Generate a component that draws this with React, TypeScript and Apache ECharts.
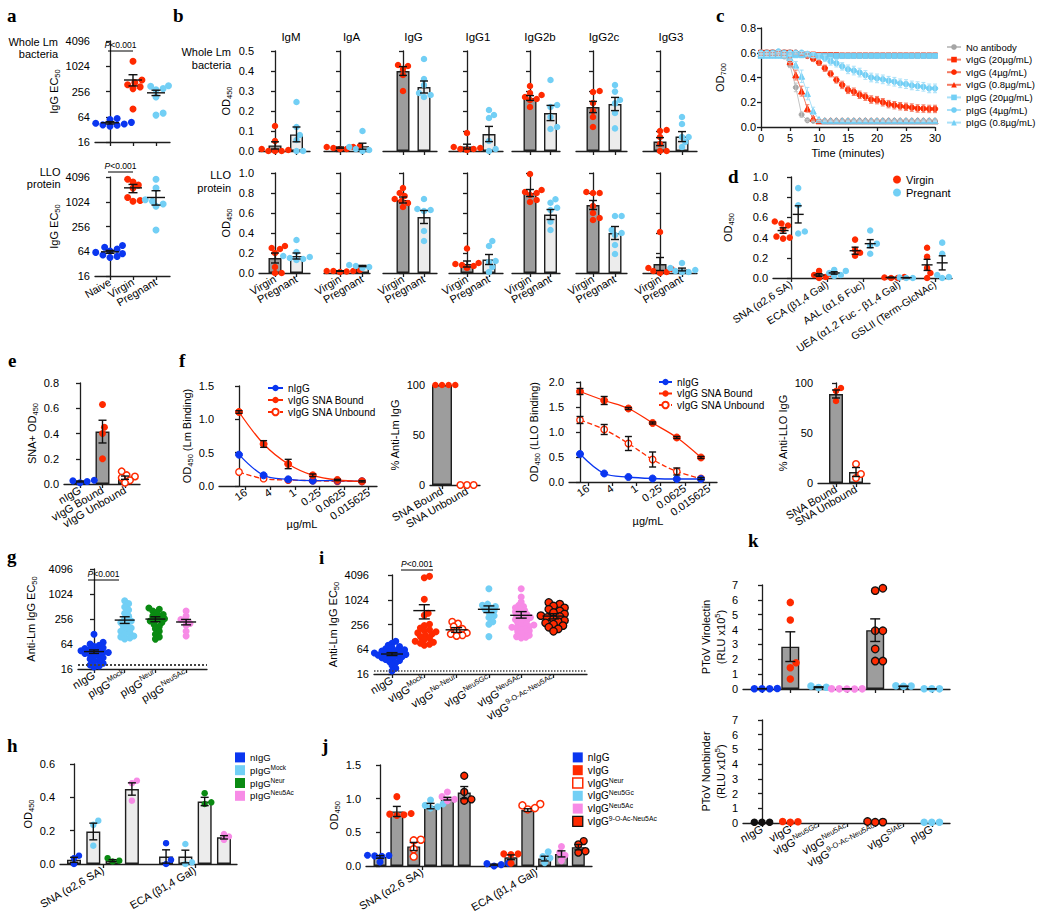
import React, { useEffect, useRef } from 'react';
import * as echarts from 'echarts';

const FONT = '"Liberation Sans", Arial, Helvetica, sans-serif';
const SERIF = '"Liberation Serif", "Times New Roman", serif';
const RED = '#ff2a00';
const LBLUE = '#72cff5';
const DBLUE = '#0a36f0';
const GREEN = '#0a8a12';
const PINK = '#f78be6';
const BLACK = '#111111';
const DGREY = '#9d9d9d';
const LGREY = '#ececec';
const INK = '#1e1e1e';

/* ---------------- a ---------------- */
const aCats = ['Naive', 'Virgin', 'Pregnant'];
const aLmNaive = [58, 55, 50, 47, 45, 43, 41, 40, 38];
const aLmVirgin = [1350, 480, 420, 370, 330, 300, 98];
const aLmPregnant = [350, 340, 300, 280, 190, 78, 70];
const aLmMean = [46, 481, 238];
const aLmLo = [43, 347, 205];
const aLmHi = [49, 643, 275];
const aLloNaive = [88, 80, 72, 65, 60, 56, 52, 48, 45];
const aLloVirgin = [3600, 3100, 2600, 2200, 1300, 1100, 1050];
const aLloPregnant = [3600, 2200, 1150, 1050, 900, 800, 210];
const aLloMean = [62, 2230, 1300];
const aLloLo = [57, 1700, 850];
const aLloHi = [67, 2700, 1900];

/* ---------------- b ---------------- */
const bIsotypes = ['IgM', 'IgA', 'IgG', 'IgG1', 'IgG2b', 'IgG2c', 'IgG3'];
const bGroups = ['Virgin', 'Pregnant'];
const bLmVirgin = [
  [0.125, 0.05, 0.01, 0.005, 0.0, 0.0, 0.0],
  [0.025, 0.02, 0.02, 0.015, 0.01, 0.01],
  [0.43, 0.425, 0.41, 0.38, 0.30],
  [0.09, 0.02, 0.015, 0.01, 0.01, 0.005],
  [0.325, 0.29, 0.28, 0.27, 0.26, 0.255, 0.22],
  [0.30, 0.295, 0.24, 0.20, 0.17, 0.12],
  [0.105, 0.10, 0.07, 0.035, 0.0, 0.0],
];
const bLmVirginMean = [0.028, 0.017, 0.40, 0.022, 0.265, 0.22, 0.047];
const bLmVirginSem = [0.018, 0.003, 0.022, 0.012, 0.012, 0.028, 0.02];
const bLmPregnant = [
  [0.245, 0.12, 0.08, 0.055, 0.0, 0.0],
  [0.10, 0.02, 0.01, 0.01, 0.005, 0.0],
  [0.46, 0.36, 0.33, 0.29, 0.28, 0.27],
  [0.205, 0.18, 0.165, 0.05, 0.01, 0.0],
  [0.355, 0.23, 0.22, 0.17, 0.12, 0.11],
  [0.33, 0.297, 0.255, 0.238, 0.19, 0.113],
  [0.17, 0.135, 0.07, 0.07, 0.045, 0.02],
];
const bLmPregnantMean = [0.083, 0.024, 0.32, 0.085, 0.19, 0.235, 0.072];
const bLmPregnantSem = [0.037, 0.015, 0.03, 0.038, 0.038, 0.033, 0.025];
const bLloVirgin = [
  [0.27, 0.25, 0.24, 0.20, 0.06, 0.0, 0.0],
  [0.03, 0.02, 0.02, 0.02, 0.015, 0.01],
  [0.85, 0.80, 0.77, 0.74, 0.72, 0.70, 0.66],
  [0.245, 0.10, 0.09, 0.08, 0.07, 0.05],
  [0.99, 0.83, 0.81, 0.80, 0.78, 0.73, 0.71],
  [0.81, 0.80, 0.80, 0.67, 0.60, 0.55, 0.53],
  [0.41, 0.05, 0.04, 0.02, 0.01, 0.0],
];
const bLloVirginMean = [0.15, 0.02, 0.73, 0.09, 0.80, 0.68, 0.09];
const bLloVirginSem = [0.05, 0.003, 0.03, 0.03, 0.035, 0.045, 0.065];
const bLloPregnant = [
  [0.33, 0.21, 0.17, 0.16, 0.15, 0.14, 0.13],
  [0.09, 0.08, 0.07, 0.07, 0.06, 0.05],
  [0.74, 0.64, 0.63, 0.62, 0.42, 0.32],
  [0.32, 0.27, 0.12, 0.11, 0.06, 0.01],
  [0.737, 0.703, 0.653, 0.63, 0.513, 0.43],
  [0.57, 0.57, 0.43, 0.40, 0.38, 0.28, 0.19],
  [0.10, 0.05, 0.03, 0.02, 0.01, 0.01],
];
const bLloPregnantMean = [0.17, 0.07, 0.56, 0.135, 0.585, 0.40, 0.035];
const bLloPregnantSem = [0.03, 0.006, 0.065, 0.05, 0.05, 0.065, 0.014];

/* ---------------- c ---------------- */
const cTime = [0, 1, 2, 3, 4, 5, 6, 7, 8, 9, 10, 11, 12, 13, 14, 15, 16, 17, 18, 19, 20, 21, 22, 23, 24, 25, 26, 27, 28, 29, 30];
const cTicks = [0, 5, 10, 15, 20, 25, 30];
const cTickLabels = ['0', '5', '10', '15', '20', '25', '30'];
const cNoAb = [0.58, 0.58, 0.58, 0.58, 0.57, 0.50, 0.32, 0.10, 0.054, 0.05, 0.05, 0.05, 0.05, 0.05, 0.05, 0.05, 0.05, 0.05, 0.05, 0.05, 0.05, 0.05, 0.05, 0.05, 0.05, 0.05, 0.05, 0.05, 0.05, 0.05, 0.05];
const cNoAbErr = [0.01, 0.01, 0.01, 0.01, 0.01, 0.02, 0.035, 0.02, 0.008, 0.005, 0.004, 0.004, 0.004, 0.004, 0.004, 0.004, 0.004, 0.004, 0.004, 0.004, 0.004, 0.004, 0.004, 0.004, 0.004, 0.004, 0.004, 0.004, 0.004, 0.004, 0.004];
const cV20 = [0.60, 0.60, 0.60, 0.60, 0.60, 0.60, 0.59, 0.59, 0.585, 0.585, 0.58, 0.58, 0.58, 0.58, 0.578, 0.578, 0.578, 0.578, 0.578, 0.578, 0.578, 0.578, 0.578, 0.578, 0.578, 0.578, 0.578, 0.578, 0.578, 0.578, 0.578];
const cV4 = [0.60, 0.60, 0.60, 0.60, 0.60, 0.60, 0.60, 0.59, 0.575, 0.55, 0.52, 0.475, 0.43, 0.38, 0.34, 0.30, 0.285, 0.26, 0.245, 0.222, 0.217, 0.20, 0.185, 0.176, 0.168, 0.163, 0.157, 0.15, 0.149, 0.146, 0.146];
const cV4Err = [0.01, 0.01, 0.01, 0.01, 0.01, 0.01, 0.01, 0.01, 0.015, 0.02, 0.02, 0.025, 0.025, 0.025, 0.03, 0.03, 0.03, 0.03, 0.03, 0.03, 0.03, 0.03, 0.03, 0.03, 0.03, 0.03, 0.03, 0.03, 0.03, 0.03, 0.03];
const cV08 = [0.59, 0.59, 0.59, 0.59, 0.59, 0.53, 0.42, 0.29, 0.15, 0.07, 0.05, 0.05, 0.05, 0.05, 0.05, 0.05, 0.05, 0.05, 0.05, 0.05, 0.05, 0.05, 0.05, 0.05, 0.05, 0.05, 0.05, 0.05, 0.05, 0.05, 0.05];
const cV08Err = [0.01, 0.01, 0.01, 0.01, 0.01, 0.03, 0.04, 0.04, 0.03, 0.015, 0.008, 0.005, 0.005, 0.005, 0.005, 0.005, 0.005, 0.005, 0.005, 0.005, 0.005, 0.005, 0.005, 0.005, 0.005, 0.005, 0.005, 0.005, 0.005, 0.005, 0.005];
const cP20 = [0.58, 0.585, 0.585, 0.59, 0.585, 0.58, 0.58, 0.58, 0.58, 0.58, 0.575, 0.575, 0.575, 0.575, 0.575, 0.575, 0.575, 0.575, 0.575, 0.575, 0.575, 0.575, 0.575, 0.575, 0.575, 0.575, 0.575, 0.575, 0.575, 0.575, 0.575];
const cP4 = [0.60, 0.60, 0.60, 0.61, 0.60, 0.60, 0.60, 0.60, 0.59, 0.58, 0.57, 0.556, 0.53, 0.515, 0.49, 0.466, 0.456, 0.44, 0.42, 0.40, 0.393, 0.385, 0.374, 0.366, 0.353, 0.347, 0.336, 0.33, 0.325, 0.312, 0.312];
const cP4Err = [0.01, 0.01, 0.01, 0.01, 0.01, 0.01, 0.01, 0.01, 0.015, 0.02, 0.02, 0.025, 0.03, 0.03, 0.03, 0.035, 0.035, 0.035, 0.035, 0.035, 0.035, 0.035, 0.035, 0.035, 0.035, 0.035, 0.035, 0.035, 0.035, 0.035, 0.035];
const cP08 = [0.58, 0.58, 0.58, 0.58, 0.58, 0.56, 0.50, 0.41, 0.27, 0.13, 0.06, 0.05, 0.05, 0.05, 0.05, 0.05, 0.05, 0.05, 0.05, 0.05, 0.05, 0.05, 0.05, 0.05, 0.05, 0.05, 0.05, 0.05, 0.05, 0.05, 0.05];
const cP08Err = [0.01, 0.01, 0.01, 0.01, 0.01, 0.02, 0.03, 0.05, 0.05, 0.03, 0.01, 0.005, 0.005, 0.005, 0.005, 0.005, 0.005, 0.005, 0.005, 0.005, 0.005, 0.005, 0.005, 0.005, 0.005, 0.005, 0.005, 0.005, 0.005, 0.005, 0.005];

/* ---------------- d ---------------- */
const dLectins = ['SNA (α2,6 SA)', 'ECA (β1,4 Gal)', 'AAL (α1,6 Fuc)', 'UEA (α1,2 Fuc - β1,4 Gal)', 'GSLII (Term-GlcNAc)'];
const dVirgin = [[0.56, 0.54, 0.52, 0.48, 0.41, 0.40, 0.39], [0.07, 0.04, 0.03, 0.01, 0.0], [0.38, 0.28, 0.25, 0.22], [0.01, 0.005, 0.0, 0.0], [0.30, 0.21, 0.10, 0.05, 0.0]];
const dVirginMean = [0.47, 0.03, 0.27, 0.005, 0.13];
const dVirginSem = [0.027, 0.013, 0.035, 0.003, 0.055];
const dPregnant = [[0.89, 0.72, 0.46, 0.44], [0.08, 0.07, 0.05, 0.03, 0.02], [0.47, 0.34, 0.32, 0.24], [0.005, 0.0, 0.0], [0.35, 0.24, 0.03, 0.01, 0.0]];
const dPregnantMean = [0.63, 0.05, 0.34, 0.003, 0.15];
const dPregnantSem = [0.085, 0.012, 0.04, 0.002, 0.07];

/* ---------------- e ---------------- */
const eCats = ['nIgG', 'vIgG Bound', 'vIgG Unbound'];
const eNIgG = [0.03, 0.025, 0.02, 0.01];
const eBound = [0.63, 0.45, 0.40, 0.20];
const eUnbound = [0.10, 0.07, 0.06, 0.05, 0.03, 0.01];
const eMean = [0.02, 0.415, 0.05];
const eSem = [0.004, 0.09, 0.013];

/* ---------------- f ---------------- */
const fConc = ['16', '4', '1', '0.25', '0.0625', '0.015625'];
const fLmN = [0.47, 0.16, 0.10, 0.08, 0.08, 0.07];
const fLmB = [1.11, 0.63, 0.33, 0.16, 0.09, 0.07];
const fLmBErr = [0.02, 0.05, 0.07, 0.02, 0.01, 0.01];
const fLmU = [0.21, 0.11, 0.09, 0.08, 0.07, 0.07];
const fLloN = [0.56, 0.17, 0.10, 0.07, 0.06, 0.06];
const fLloB = [1.81, 1.63, 1.47, 1.18, 0.89, 0.49];
const fLloBErr = [0.06, 0.08, 0.02, 0.02, 0.02, 0.02];
const fLloU = [1.24, 1.05, 0.77, 0.45, 0.21, 0.07];
const fLloUErr = [0.07, 0.1, 0.14, 0.15, 0.07, 0.02];
const fPctCats = ['SNA Bound', 'SNA Unbound'];
const fLmPctBound = [100, 100, 100, 100];
const fLmPctUnbound = [0, 0, 0];
const fLmPctMean = [100, 0];
const fLloPctBound = [95, 92, 82];
const fLloPctUnbound = [19, 9, 5];
const fLloPctMean = [89, 11];
const fLloPctSem = [4, 4.5];

/* ---------------- g ---------------- */
const gCats = ['nIgG', 'pIgG^Mock', 'pIgG^Neur', 'pIgG^Neu5Ac'];
const gNIgG = [110, 70, 64, 60, 56, 52, 50, 48, 46, 44, 42, 40, 40, 38, 36, 34, 32, 30, 28, 26, 24, 22, 20, 19, 18];
const gMock = [700, 600, 500, 420, 350, 300, 260, 230, 210, 190, 170, 155, 140, 130, 120, 110, 100, 95, 90, 85];
const gNeur = [470, 440, 400, 360, 330, 300, 280, 260, 240, 230, 210, 190, 170, 150, 130, 110, 95, 84];
const gNeu5Ac = [400, 300, 250, 230, 200, 180, 130, 100];
const gMean = [42, 241, 255, 217];
const gLo = [38, 200, 220, 185];
const gHi = [46, 290, 290, 250];

/* ---------------- i ---------------- */
const iCats = ['nIgG', 'vIgG^Mock', 'vIgG^No-Neur', 'vIgG^Neu5Gc', 'vIgG^Neu5Ac', 'vIgG^9-O-Ac-Neu5Ac'];
const iNIgG = [100, 90, 80, 75, 70, 66, 62, 60, 58, 56, 54, 52, 50, 50, 48, 46, 45, 44, 42, 40, 38, 36, 34, 32, 30, 26, 22, 19];
const iMock = [3800, 3500, 1050, 480, 430, 260, 240, 210, 190, 180, 170, 160, 150, 140, 130, 120, 110, 100, 95, 90, 85, 80];
const iNoNeur = [300, 270, 230, 200, 180, 160, 150, 140, 135];
const iNeu5Gc = [1900, 800, 750, 700, 650, 600, 550, 500, 420, 380, 300, 260, 130];
const iNeu5Ac = [1900, 1200, 900, 750, 700, 650, 600, 560, 520, 480, 450, 420, 400, 380, 360, 340, 320, 300, 280, 260, 250, 240, 230, 220, 210, 200, 190, 180, 170, 160, 150, 140, 130, 125, 120];
const i9OAc = [880, 800, 720, 650, 600, 550, 500, 460, 420, 400, 380, 350, 320, 300, 280, 260, 240, 220, 200, 175];
const iMean = [49, 557, 190, 600, 428, 410];
const iLo = [45, 350, 165, 500, 366, 350];
const iHi = [53, 776, 215, 725, 527, 470];

/* ---------------- h ---------------- */
const hLectins = ['SNA (α2,6 SA)', 'ECA (β1,4 Gal)'];
const hGroups = ['nIgG', 'pIgG^Mock', 'pIgG^Neur', 'pIgG^Neu5Ac'];
const hSnaPts = [[0.05, 0.035, 0.0], [0.26, 0.235, 0.11], [0.035, 0.02, 0.015], [0.5, 0.485, 0.38]];
const hSnaMean = [0.025, 0.195, 0.02, 0.45];
const hSnaSem = [0.015, 0.05, 0.006, 0.037];
const hEcaPts = [[0.125, 0.025, 0.0], [0.12, 0.01, 0.0], [0.425, 0.37, 0.36], [0.18, 0.165, 0.145]];
const hEcaMean = [0.045, 0.045, 0.375, 0.16];
const hEcaSem = [0.04, 0.038, 0.025, 0.01];

/* ---------------- j ---------------- */
const jLectins = ['SNA (α2,6 SA)', 'ECA (β1,4 Gal)'];
const jGroups = ['nIgG', 'vIgG', 'vIgG^Neur', 'vIgG^Neu5Gc', 'vIgG^Neu5Ac', 'vIgG^9-O-Ac-Neu5Ac'];
const jSnaPts = [[0.16, 0.155, 0.15, 0.145, 0.06], [1.03, 0.78, 0.77, 0.76, 0.75], [0.39, 0.38, 0.25, 0.14], [0.98, 0.92, 0.90, 0.88, 0.86], [1.10, 1.03, 0.99, 0.97], [1.34, 1.10, 0.99, 0.97]];
const jSnaMean = [0.135, 0.81, 0.29, 0.89, 1.0, 1.09];
const jSnaSem = [0.02, 0.075, 0.06, 0.04, 0.02, 0.09];
const jEcaPts = [[0.04, 0.035, 0.02, 0.0], [0.18, 0.18, 0.17, 0.04], [0.92, 0.90, 0.86, 0.84], [0.21, 0.14, 0.12, 0.05], [0.29, 0.20, 0.16, 0.08], [0.37, 0.32, 0.22, 0.20]];
const jEcaMean = [0.02, 0.13, 0.83, 0.11, 0.18, 0.28];
const jEcaSem = [0.008, 0.035, 0.02, 0.035, 0.045, 0.04];

/* ---------------- k ---------------- */
const kCats = ['nIgG', 'vIgG', 'vIgG^Neu5Gc', 'vIgG^Neu5Ac', 'vIgG^9-O-Ac-Neu5Ac', 'vIgG^SIAE', 'pIgG'];
const kTopPts = [[0.03, 0.02, 0.02, 0.01], [5.83, 4.64, 1.77, 1.43, 0.67], [0.2, 0.12, 0.1], [0.02, 0.01, 0.01, 0.0, 0.0], [6.78, 6.62, 3.92, 3.92, 2.69, 1.88, 1.88], [0.22, 0.2, 0.18], [0.02, 0.01, 0.01]];
const kTopMean = [0.02, 2.85, 0.12, 0.01, 3.96, 0.18, 0.01];
const kTopSem = [0.005, 1.0, 0.03, 0.004, 0.76, 0.015, 0.003];
const kBotPts = [[0.05, 0.05, 0.05], [0.1, 0.08, 0.05], [], [], [0.1, 0.06, 0.05], [], [0.05, 0.05, 0.05]];
const kBotMean = [0.05, 0.08, 0, 0, 0.07, 0, 0.05];

/* ---------------- helpers ---------------- */
function RICH(fs: number) {
  const s = Math.round(fs * 0.68 * 10) / 10;
  return {
    sup: { fontSize: s, lineHeight: s, verticalAlign: 'top', fontFamily: FONT, color: '#000' },
    sub: { fontSize: s, lineHeight: fs * 0.95, verticalAlign: 'bottom', fontFamily: FONT, color: '#000' },
    it: { fontSize: fs, fontStyle: 'italic', fontFamily: FONT, color: '#000' },
  };
}
function disp(s: string) {
  return s.replace(/^[a-z0-9]+:/, '').replace(/\^(.+)$/, '{sup|$1}');
}

function buildOption() {
  const opt: any = { animation: false, backgroundColor: '#ffffff', textStyle: { fontFamily: FONT }, grid: [], xAxis: [], yAxis: [], series: [], legend: [], graphic: [] };
  const panels: any[] = [];

  function addPanel(o: any) {
    const idx = panels.length;
    const p = { idx, ax: o.ax, end: o.end, top: o.top, bot: o.bot, c0: o.c0, step: o.step, ymin: o.ymin, ymax: o.ymax, log: !!o.log };
    panels.push(p);
    const lfs = o.lfs || 11;
    const ticks: number[] = o.ticks || [];
    const hasSup = !!o.labels && o.labels.some((l: string) => l.indexOf('^') >= 0);
    const axisStyle = { color: INK, width: 1.3 };
    const xmin = (o.ax - o.c0) / o.step;
    const xmax = (o.end - o.c0) / o.step;
    const labelCfg = (vals: number[], show: boolean) => ({
      show, customValues: vals, rotate: o.rot || 0, margin: o.lmargin ?? 5,
      showMinLabel: true, showMaxLabel: true, hideOverlap: false,
      fontSize: lfs, fontFamily: FONT, color: '#000', lineHeight: hasSup ? lfs * 1.35 : lfs * 1.1, rich: RICH(lfs),
      formatter: (v: number) => {
        if (!o.labels) return '';
        let k = 0;
        ticks.forEach((t, i) => { if (Math.abs(t - v) < Math.abs(ticks[k] - v)) k = i; });
        return disp(o.labels[k]);
      },
    });
    opt.grid.push({ left: o.ax, top: o.top, width: o.end - o.ax, height: o.bot - o.top, containLabel: false });
    // main x axis: line, all ticks, first label
    opt.xAxis.push({
      gridIndex: idx, type: 'value', position: 'bottom', min: xmin, max: xmax,
      axisLine: { show: true, onZero: false, lineStyle: axisStyle },
      axisTick: { show: ticks.length > 0, customValues: ticks, length: 4, lineStyle: axisStyle },
      axisLabel: labelCfg(ticks.length ? [ticks[0]] : [], !!o.labels),
      splitLine: { show: false },
      name: o.xname || '', nameLocation: 'middle', nameGap: o.xnameGap || 20,
      nameTextStyle: { fontSize: 11, fontFamily: FONT, color: '#000' },
    });
    const y: any = {
      gridIndex: idx, type: o.log ? 'log' : 'value', min: o.ymin, max: o.ymax,
      axisLine: { show: true, lineStyle: axisStyle },
      axisTick: { show: true, length: 4, lineStyle: axisStyle },
      axisLabel: {
        show: o.ylabels !== false, fontSize: o.yfs || 11, fontFamily: FONT, color: '#000', margin: 5,
        showMinLabel: true, showMaxLabel: true,
        formatter: (v: number) => (o.log ? String(Math.round(v)) : v.toFixed(o.ydec ?? 1)),
      },
      splitLine: { show: false },
      name: o.yname || '', nameLocation: 'middle', nameGap: o.ynameGap ?? 30, nameRotate: 90,
      nameTextStyle: { fontSize: o.ynfs || 11, fontFamily: FONT, color: '#000', lineHeight: (o.ynfs || 11) * 1.35, rich: RICH(o.ynfs || 11) },
    };
    if (o.log) y.logBase = 4; else y.interval = o.yint;
    opt.yAxis.push(y);
    // extra label-only axes, one label each, so that no label is ever dropped
    if (o.labels) {
      ticks.slice(1).forEach((t) => {
        opt.xAxis.push({
          gridIndex: idx, type: 'value', position: 'bottom', min: xmin, max: xmax, silent: true,
          axisLine: { show: false, onZero: false }, axisTick: { show: false }, splitLine: { show: false },
          axisLabel: labelCfg([t], true),
        });
      });
    }
    p.idx = opt.xAxis.length - 1 - (o.labels ? ticks.length - 1 : 0);
    (p as any).yIdx = opt.yAxis.length - 1;
    return p;
  }

  function yPx(p: any, v: number) {
    const H = p.bot - p.top;
    if (p.log) return (Math.log(v) - Math.log(p.ymin)) / (Math.log(p.ymax) - Math.log(p.ymin)) * H;
    return (v - p.ymin) / (p.ymax - p.ymin) * H;
  }
  function swarm(p: any, vals: number[], size: number, dens: number) {
    const ys = vals.map((v) => yPx(p, v));
    const order = ys.map((_, i) => i).sort((a, b) => ys[a] - ys[b]);
    const placed: number[][] = [];
    const out: number[] = vals.map(() => 0);
    const d = size * dens;
    order.forEach((i) => {
      let x = 0;
      for (let k = 0; k < 80; k++) {
        const c = k === 0 ? 0 : (k % 2 ? 1 : -1) * Math.ceil(k / 2) * d * 0.3;
        if (placed.every((q) => (q[0] - c) ** 2 + (q[1] - ys[i]) ** 2 >= d * d)) { x = c; break; }
      }
      placed.push([x, ys[i]]);
      out[i] = x / p.step;
    });
    return out;
  }
  function addDots(p: any, x: number, vals: number[], o: any) {
    if (!vals.length) return;
    const size = o.size || 7;
    const off = swarm(p, vals, size, o.dens || 0.92);
    opt.series.push({
      type: 'scatter', name: o.name, xAxisIndex: p.idx, yAxisIndex: p.yIdx, z: 3, silent: true,
      symbol: 'circle', symbolSize: size,
      itemStyle: o.hollow
        ? { color: '#ffffff', borderColor: o.color, borderWidth: 1.5, opacity: 1 }
        : { color: o.color, borderColor: o.border || o.color, borderWidth: o.border ? 1.3 : 0, opacity: 1 },
      data: vals.map((v, i) => [x + off[i], v]),
    });
  }
  function addBars(p: any, xs: number[], vals: number[], fills: string[], width: number) {
    opt.series.push({
      type: 'bar', xAxisIndex: p.idx, yAxisIndex: p.yIdx, barWidth: width, z: 2, silent: true,
      data: xs.map((x, i) => ({ value: [x, vals[i]], itemStyle: { color: fills[i], borderColor: INK, borderWidth: 1.4 } })),
    });
  }
  function addErrs(p: any, items: number[][], cap: number, meanW: number, color?: string, width?: number) {
    const col = color || BLACK;
    const lw = width || 1.4;
    opt.series.push({
      type: 'custom', xAxisIndex: p.idx, yAxisIndex: p.yIdx, z: 5, silent: true, clip: false,
      encode: { x: 0, y: 1 },
      data: items.map((it) => [it[0], it[1], Math.max(it[2], p.ymin), it[3]]),
      renderItem: (params: any, api: any) => {
        const x = api.value(0);
        const pm = api.coord([x, api.value(1)]);
        const pl = api.coord([x, api.value(2)]);
        const ph = api.coord([x, api.value(3)]);
        const st = { stroke: col, lineWidth: lw };
        const ch: any[] = [
          { type: 'line', shape: { x1: pm[0], y1: pl[1], x2: pm[0], y2: ph[1] }, style: st },
          { type: 'line', shape: { x1: pm[0] - cap / 2, y1: ph[1], x2: pm[0] + cap / 2, y2: ph[1] }, style: st },
          { type: 'line', shape: { x1: pm[0] - cap / 2, y1: pl[1], x2: pm[0] + cap / 2, y2: pl[1] }, style: st },
        ];
        if (meanW > 0) ch.push({ type: 'line', shape: { x1: pm[0] - meanW / 2, y1: pm[1], x2: pm[0] + meanW / 2, y2: pm[1] }, style: st });
        return { type: 'group', children: ch };
      },
    });
  }
  function addLine(p: any, name: string, xs: number[], ys: number[], o: any) {
    opt.series.push({
      type: 'line', name, xAxisIndex: p.idx, yAxisIndex: p.yIdx, z: o.z || 3, silent: true,
      symbol: o.symbol || 'circle', symbolSize: o.size || 6, smooth: o.smooth || false,
      itemStyle: o.hollow ? { color: '#ffffff', borderColor: o.color, borderWidth: 1.3 } : { color: o.color, borderColor: o.color },
      lineStyle: { color: o.lineColor || o.color, width: o.width || 1.3, type: o.dashed ? 'dashed' : 'solid' },
      data: xs.map((x, i) => [x, ys[i]]),
    });
  }
  function addRefLine(p: any, yv: number, w: number) {
    opt.series.push({ type: 'line', xAxisIndex: p.idx, yAxisIndex: p.yIdx, data: [], silent: true, markLine: { silent: true, symbol: 'none', label: { show: false }, lineStyle: { type: 'dotted', color: '#444', width: w }, data: [{ yAxis: yv }] } });
  }
  function legend(o: any) {
    opt.legend.push({
      show: true, orient: 'vertical', left: o.left, top: o.top, padding: 0, itemGap: o.gap, itemWidth: o.iw, itemHeight: o.ih,
      selectedMode: false, formatter: (n: string) => disp(n),
      textStyle: { fontSize: o.fs, fontFamily: FONT, color: '#000', lineHeight: o.lh, rich: RICH(o.fs) },
      data: o.data,
    });
  }
  const G: any[] = [];
  function T(x: number, y: number, text: string, o: any = {}) {
    G.push({ type: 'text', x, y, silent: true, z: 20, style: { text, fill: '#000', fontSize: o.fs || 11, fontFamily: o.ff || FONT, fontWeight: o.fw || 'normal', align: o.align || 'left', verticalAlign: o.va || 'middle', lineHeight: o.lh, rich: RICH(o.fs || 11) } });
  }
  function L(x1: number, y1: number, x2: number, y2: number) {
    G.push({ type: 'line', silent: true, z: 20, shape: { x1, y1, x2, y2 }, style: { stroke: '#000', lineWidth: 1 } });
  }

  /* ---- a ---- */
  const aColors = [DBLUE, RED, LBLUE];
  const aRows = [
    { top: 41, bot: 142, pts: [aLmNaive, aLmVirgin, aLmPregnant], m: aLmMean, lo: aLmLo, hi: aLmHi, labels: null },
    { top: 177, bot: 276, pts: [aLloNaive, aLloVirgin, aLloPregnant], m: aLloMean, lo: aLloLo, hi: aLloHi, labels: aCats },
  ];
  aRows.forEach((r) => {
    const p = addPanel({ ax: 95, end: 170, top: r.top, bot: r.bot, c0: 110, step: 23, ymin: 16, ymax: 4096, log: true, ticks: [0, 1, 2], labels: r.labels, rot: 30, yname: 'IgG EC{sub|50}', ynameGap: 32 });
    r.pts.forEach((vals, i) => addDots(p, i, vals, { color: aColors[i], size: 7, dens: 0.85 }));
    addErrs(p, r.m.map((m, i) => [i, m, r.lo[i], r.hi[i]]), 9, 18);
  });

  /* ---- b ---- */
  const bLayout = [
    { ax: 259, end: 310, c0: 275, step: 21.5, tx: 291 },
    { ax: 324, end: 370, c0: 340, step: 22.5, tx: 351.5 },
    { ax: 383, end: 437, c0: 403, step: 21, tx: 413.5 },
    { ax: 449, end: 503, c0: 467, step: 22, tx: 478 },
    { ax: 512, end: 560, c0: 530, step: 20.5, tx: 540 },
    { ax: 576, end: 627, c0: 593, step: 22, tx: 604 },
    { ax: 643, end: 697, c0: 660, step: 22, tx: 671 },
  ];
  bIsotypes.forEach((iso, k) => {
    const L0 = bLayout[k];
    [0, 1].forEach((row) => {
      const p = addPanel({
        ax: L0.ax, end: L0.end, c0: L0.c0, step: L0.step,
        top: row ? 173 : 51, bot: row ? 273 : 151, ymin: 0, ymax: row ? 1 : 0.5, yint: row ? 0.2 : 0.1,
        ylabels: k === 0, ticks: [0, 1], labels: row ? bGroups : null, rot: 30,
        yname: k === 0 ? 'OD{sub|450}' : '', ynameGap: 26,
      });
      const vV = row ? bLloVirgin[k] : bLmVirgin[k];
      const vP = row ? bLloPregnant[k] : bLmPregnant[k];
      const mV = row ? bLloVirginMean[k] : bLmVirginMean[k];
      const mP = row ? bLloPregnantMean[k] : bLmPregnantMean[k];
      const sV = row ? bLloVirginSem[k] : bLmVirginSem[k];
      const sP = row ? bLloPregnantSem[k] : bLmPregnantSem[k];
      addBars(p, [0, 1], [mV, mP], [DGREY, LGREY], 13);
      addDots(p, 0, vV, { color: RED, size: 6.5, dens: 0.85 });
      addDots(p, 1, vP, { color: LBLUE, size: 6.5, dens: 0.85 });
      addErrs(p, [[0, mV, mV - sV, mV + sV], [1, mP, mP - sP, mP + sP]], 8, 0);
    });
    T(L0.tx, 37, iso, { align: 'center', fs: 11.5 });
  });

  /* ---- c ---- */
  const cP = addPanel({ ax: 761, end: 935, top: 28, bot: 127, c0: 761, step: 5.8, ymin: 0, ymax: 0.8, yint: 0.2, ticks: cTicks, labels: cTickLabels, rot: 0, yname: 'OD{sub|700}', ynameGap: 34, xname: 'Time (minutes)', xnameGap: 20 });
  const cDefs = [
    { name: 'No antibody', y: cNoAb, e: cNoAbErr, color: '#a5a5a5', lc: '#c4c4c4', sym: 'circle', size: 5 },
    { name: 'vIgG (20µg/mL)', y: cV20, e: null, color: RED, lc: '#f47a62', sym: 'rect', size: 5 },
    { name: 'vIgG (4µg/mL)', y: cV4, e: cV4Err, color: RED, lc: '#f47a62', sym: 'circle', size: 5.5 },
    { name: 'vIgG (0.8µg/mL)', y: cV08, e: cV08Err, color: RED, lc: '#f47a62', sym: 'triangle', size: 6 },
    { name: 'pIgG (20µg/mL)', y: cP20, e: null, color: LBLUE, lc: '#a9e0f8', sym: 'rect', size: 5 },
    { name: 'pIgG (4µg/mL)', y: cP4, e: cP4Err, color: LBLUE, lc: '#a9e0f8', sym: 'circle', size: 5.5 },
    { name: 'pIgG (0.8µg/mL)', y: cP08, e: cP08Err, color: LBLUE, lc: '#a9e0f8', sym: 'triangle', size: 6 },
  ];
  cDefs.forEach((d) => {
    if (d.e) {
      const e = d.e;
      addErrs(cP, cTime.map((t, i) => [t, d.y[i], d.y[i] - e[i], d.y[i] + e[i]]), 4, 0, d.lc, 1);
    }
    addLine(cP, d.name, cTime, d.y, { color: d.color, lineColor: d.lc, symbol: d.sym, size: d.size, width: 1 });
  });
  legend({ left: 946, top: 42, gap: 2.6, iw: 14, ih: 7, fs: 9.5, data: cDefs.map((d) => d.name) });

  /* ---- d ---- */
  const dP = addPanel({ ax: 773, end: 952, top: 177, bot: 278, c0: 791, step: 36, ymin: 0, ymax: 1, yint: 0.2, ticks: [0, 1, 2, 3, 4], labels: dLectins, rot: 33, lfs: 10.5, yname: 'OD{sub|450}', ynameGap: 38 });
  dLectins.forEach((_, i) => {
    addDots(dP, i - 0.22, dVirgin[i], { color: RED, size: 6.5, name: 'd:Virgin', dens: 0.85 });
    addDots(dP, i + 0.2, dPregnant[i], { color: LBLUE, size: 6.5, name: 'd:Pregnant', dens: 0.85 });
  });
  addErrs(dP, dLectins.map((_, i) => [i - 0.22, dVirginMean[i], dVirginMean[i] - dVirginSem[i], dVirginMean[i] + dVirginSem[i]]), 7, 11);
  addErrs(dP, dLectins.map((_, i) => [i + 0.2, dPregnantMean[i], dPregnantMean[i] - dPregnantSem[i], dPregnantMean[i] + dPregnantSem[i]]), 7, 11);
  legend({ left: 893, top: 174, gap: 2, iw: 8, ih: 8, fs: 11, data: [{ name: 'd:Virgin', icon: 'circle' }, { name: 'd:Pregnant', icon: 'circle' }] });

  /* ---- e ---- */
  const eP = addPanel({ ax: 64, end: 140, top: 383, bot: 484, c0: 80, step: 22.5, ymin: 0, ymax: 0.8, yint: 0.2, ticks: [0, 1, 2], labels: eCats, rot: 30, yname: 'SNA+ OD{sub|450}', ynameGap: 25 });
  addBars(eP, [0, 1, 2], eMean, [DGREY, DGREY, DGREY], 14);
  addDots(eP, 0, eNIgG, { color: DBLUE, size: 7, dens: 0.85 });
  addDots(eP, 1, eBound, { color: RED, size: 7 });
  addDots(eP, 2, eUnbound, { color: RED, size: 6.5, hollow: true, dens: 0.85 });
  addErrs(eP, eMean.map((m, i) => [i, m, m - eSem[i], m + eSem[i]]), 8, 0);

  /* ---- f ---- */
  const fx = fConc.map((_, i) => i);
  const fA = addPanel({ ax: 219, end: 377, top: 386, bot: 486, c0: 239, step: 24.6, ymin: 0, ymax: 1.5, yint: 0.5, ticks: fx.map((x) => x + 0.27), labels: fConc, rot: 35, yname: 'OD{sub|450} (Lm Binding)', ynameGap: 20 });
  addLine(fA, 'f1:vIgG SNA Unbound', fx, fLmU, { color: RED, hollow: true, dashed: true, smooth: 0.35, size: 6.5 });
  addLine(fA, 'f1:nIgG', fx, fLmN, { color: DBLUE, smooth: 0.35, size: 7 });
  addLine(fA, 'f1:vIgG SNA Bound', fx, fLmB, { color: RED, smooth: 0.35, size: 7 });
  addErrs(fA, fx.map((x, i) => [x, fLmB[i], fLmB[i] - fLmBErr[i], fLmB[i] + fLmBErr[i]]), 7, 0);
  legend({ left: 267, top: 383, gap: 2, iw: 15, ih: 8, fs: 10, data: ['f1:nIgG', 'f1:vIgG SNA Bound', 'f1:vIgG SNA Unbound'] });
  T(302, 524, 'µg/mL', { align: 'center' });

  const fB = addPanel({ ax: 430, end: 480, top: 385, bot: 485, c0: 442, step: 25, ymin: 0, ymax: 100, yint: 50, ydec: 0, ticks: [0, 1], labels: fPctCats, rot: 30, yname: '% Anti-Lm IgG', ynameGap: 24 });
  addBars(fB, [0, 1], fLmPctMean, [DGREY, LGREY], 20);
  addDots(fB, 0, fLmPctBound, { color: RED, size: 6.5, dens: 0.85 });
  addDots(fB, 1, fLmPctUnbound, { color: RED, size: 6.5, hollow: true, dens: 0.85 });

  const fC = addPanel({ ax: 569, end: 717, top: 382, bot: 482, c0: 580, step: 24.2, ymin: 0, ymax: 2, yint: 0.5, ticks: fx.map((x) => x + 0.33), labels: fConc, rot: 35, yname: 'OD{sub|450} (LLO Binding)', ynameGap: 28 });
  addLine(fC, 'f2:vIgG SNA Unbound', fx, fLloU, { color: RED, hollow: true, dashed: true, smooth: 0.35, size: 6.5 });
  addLine(fC, 'f2:nIgG', fx, fLloN, { color: DBLUE, smooth: 0.35, size: 7 });
  addLine(fC, 'f2:vIgG SNA Bound', fx, fLloB, { color: RED, smooth: 0.35, size: 7 });
  addErrs(fC, fx.map((x, i) => [x, fLloB[i], fLloB[i] - fLloBErr[i], fLloB[i] + fLloBErr[i]]), 7, 0);
  addErrs(fC, fx.map((x, i) => [x, fLloU[i], fLloU[i] - fLloUErr[i], fLloU[i] + fLloUErr[i]]), 7, 0);
  legend({ left: 658, top: 377, gap: 1.5, iw: 13, ih: 8, fs: 10, data: ['f2:nIgG', 'f2:vIgG SNA Bound', 'f2:vIgG SNA Unbound'] });
  T(648, 521, 'µg/mL', { align: 'center' });

  const fD = addPanel({ ax: 818, end: 870, top: 383, bot: 483, c0: 836, step: 20, ymin: 0, ymax: 100, yint: 50, ydec: 0, ticks: [0, 1], labels: fPctCats, rot: 30, yname: '% Anti-LLO IgG', ynameGap: 22 });
  addBars(fD, [0, 1], fLloPctMean, [DGREY, LGREY], 14);
  addDots(fD, 0, fLloPctBound, { color: RED, size: 6.5, dens: 0.85 });
  addDots(fD, 1, fLloPctUnbound, { color: RED, size: 6.5, hollow: true, dens: 0.85 });
  addErrs(fD, fLloPctMean.map((m, i) => [i, m, m - fLloPctSem[i], m + fLloPctSem[i]]), 8, 0);

  /* ---- g ---- */
  const gP = addPanel({ ax: 78, end: 207, top: 569, bot: 669, c0: 94, step: 30.7, ymin: 16, ymax: 4096, log: true, ticks: [0, 1, 2, 3], labels: gCats, rot: 30, yname: 'Anti-Lm IgG EC{sub|50}', ynameGap: 40 });
  [gNIgG, gMock, gNeur, gNeu5Ac].forEach((vals, i) => addDots(gP, i, vals, { color: [DBLUE, LBLUE, GREEN, PINK][i], size: 7, dens: 0.62 }));
  addErrs(gP, gMean.map((m, i) => [i, m, gLo[i], gHi[i]]), 10, 20);
  addRefLine(gP, 20, 2);

  /* ---- i ---- */
  const iP = addPanel({ ax: 374, end: 587, top: 575, bot: 674, c0: 392, step: 32.3, ymin: 16, ymax: 4096, log: true, ticks: [0, 1, 2, 3, 4, 5], labels: iCats, rot: 30, yname: 'Anti-Lm IgG EC{sub|50}', ynameGap: 28 });
  addDots(iP, 0, iNIgG, { color: DBLUE, size: 7, dens: 0.6 });
  addDots(iP, 1, iMock, { color: RED, size: 7, dens: 0.62 });
  addDots(iP, 2, iNoNeur, { color: RED, size: 6.5, hollow: true, dens: 0.75 });
  addDots(iP, 3, iNeu5Gc, { color: LBLUE, size: 7, dens: 0.62 });
  addDots(iP, 4, iNeu5Ac, { color: PINK, size: 7, dens: 0.55 });
  addDots(iP, 5, i9OAc, { color: RED, border: BLACK, size: 7.5, dens: 0.7 });
  addErrs(iP, iMean.map((m, i) => [i, m, iLo[i], iHi[i]]), 11, 22);
  addRefLine(iP, 19, 1.5);

  /* ---- k ---- */
  const kStyle: any[] = [
    { color: DBLUE }, { color: RED }, { color: LBLUE }, { color: PINK }, { color: RED, border: BLACK }, { color: LBLUE }, { color: LBLUE },
  ];
  const kTop = addPanel({ ax: 743, end: 950, top: 585, bot: 689, c0: 762, step: 28.3, ymin: 0, ymax: 7, yint: 1, ydec: 0, ticks: [0, 1, 2, 3, 4, 5, 6], labels: null, yname: 'PToV Virolectin\n(RLU x10{sup|5})', ynameGap: 12 });
  addBars(kTop, kCats.map((_, i) => i), kTopMean, kCats.map(() => DGREY), 18);
  kTopPts.forEach((vals, i) => addDots(kTop, i, vals, { color: kStyle[i].color, border: kStyle[i].border, size: 7.5, dens: 0.85 }));
  addErrs(kTop, kTopMean.map((m, i) => [i, m, m - kTopSem[i], m + kTopSem[i]]), 10, 0);
  const kBot = addPanel({ ax: 743, end: 950, top: 720, bot: 823, c0: 762, step: 28.3, ymin: 0, ymax: 7, yint: 1, ydec: 0, ticks: [0, 1, 2, 3, 4, 5, 6], labels: kCats, rot: 28, yname: 'PToV Nonbinder\n(RLU x10{sup|5})', ynameGap: 12 });
  const kBotIdx = [0, 1, 4, 6];
  addBars(kBot, kBotIdx, kBotIdx.map((i) => kBotMean[i]), kBotIdx.map(() => DGREY), 18);
  const kBotStyle: any[] = [{ color: BLACK }, { color: RED }, null, null, { color: RED, border: BLACK }, null, { color: LBLUE }];
  kBotPts.forEach((vals, i) => { if (vals.length) addDots(kBot, i, vals, { color: kBotStyle[i].color, border: kBotStyle[i].border, size: 7.5, dens: 0.85 }); });

  /* ---- h ---- */
  const hx = (g: number, m: number) => g * 4.77 + m;
  const hP = addPanel({ ax: 60, end: 237, top: 764, bot: 864, c0: 74, step: 19.3, ymin: 0, ymax: 0.6, yint: 0.2, ticks: [1.5, hx(1, 1.5)], labels: hLectins, rot: 30, yname: 'OD{sub|450}', ynameGap: 25 });
  const hColors = [DBLUE, LBLUE, GREEN, PINK];
  const hXs: number[] = [];
  const hM: number[] = [];
  [hSnaMean, hEcaMean].forEach((means, g) => means.forEach((m, k) => { hXs.push(hx(g, k)); hM.push(m); }));
  addBars(hP, hXs, hM, hXs.map(() => LGREY), 14);
  [hSnaPts, hEcaPts].forEach((pts, g) => pts.forEach((vals, k) => addDots(hP, hx(g, k), vals, { color: hColors[k], size: 6.5, name: 'h:' + hGroups[k], dens: 0.85 })));
  [[hSnaMean, hSnaSem], [hEcaMean, hEcaSem]].forEach((ms, g) => addErrs(hP, ms[0].map((m, k) => [hx(g, k), m, m - ms[1][k], m + ms[1][k]]), 8, 0));
  legend({ left: 235, top: 751, gap: 0, iw: 10, ih: 10, fs: 9.5, lh: 12.8, data: hGroups.map((n, k) => ({ name: 'h:' + n, icon: 'rect', itemStyle: { color: hColors[k], borderWidth: 0 } })) });

  /* ---- j ---- */
  const jx = (g: number, m: number) => g * 6.77 + m;
  const jP = addPanel({ ax: 366, end: 592, top: 765, bot: 866, c0: 380, step: 16.85, ymin: 0, ymax: 1.5, yint: 0.5, ticks: [2.5, jx(1, 2.5)], labels: jLectins, rot: 30, yname: 'OD{sub|450}', ynameGap: 24 });
  const jStyle: any[] = [
    { color: DBLUE }, { color: RED }, { color: RED, hollow: true }, { color: LBLUE }, { color: PINK }, { color: RED, border: BLACK },
  ];
  const jXs: number[] = [];
  const jM: number[] = [];
  [jSnaMean, jEcaMean].forEach((means, g) => means.forEach((m, k) => { jXs.push(jx(g, k)); jM.push(m); }));
  addBars(jP, jXs, jM, jXs.map(() => DGREY), 13);
  [jSnaPts, jEcaPts].forEach((pts, g) => pts.forEach((vals, k) => addDots(jP, jx(g, k), vals, { color: jStyle[k].color, hollow: jStyle[k].hollow, border: jStyle[k].border, size: 7, name: 'j:' + jGroups[k], dens: 0.85 })));
  [[jSnaMean, jSnaSem], [jEcaMean, jEcaSem]].forEach((ms, g) => addErrs(jP, ms[0].map((m, k) => [jx(g, k), m, m - ms[1][k], m + ms[1][k]]), 8, 0));
  legend({
    left: 572, top: 751, gap: 0, iw: 10, ih: 10, fs: 10, lh: 12.8,
    data: jGroups.map((n, k) => {
      const s: any = jStyle[k];
      return { name: 'j:' + n, icon: 'rect', itemStyle: s.hollow ? { color: '#ffffff', borderColor: RED, borderWidth: 1.5 } : { color: s.color, borderColor: s.border || s.color, borderWidth: s.border ? 1.3 : 0 } };
    }),
  });

  /* ---- annotations ---- */
  const letters: any[] = [['a', 7, 15], ['b', 173, 15], ['c', 716, 15], ['d', 728, 176], ['e', 8, 360], ['f', 179, 360], ['g', 7, 556], ['i', 319, 557], ['k', 748, 540], ['h', 7, 745], ['j', 322, 745]];
  letters.forEach((l) => T(l[1], l[2], l[0], { fs: 19, ff: SERIF, fw: 'bold' }));
  T(58, 47.5, 'Whole Lm\nbacteria', { align: 'right', lh: 12 });
  T(60.5, 178, 'LLO\nprotein', { align: 'right', lh: 12 });
  T(231, 58.5, 'Whole Lm\nbacteria', { align: 'right', lh: 12.5 });
  T(231, 181, 'LLO\nprotein', { align: 'right', lh: 13 });
  const brackets = [[108, 133, 51], [108, 133, 172], [88, 119, 580], [401, 433, 570]];
  brackets.forEach((b) => {
    L(b[0], b[2], b[1], b[2]);
    T((b[0] + b[1]) / 2, b[2] - 6, '{it|P}<0.001', { align: 'center', fs: 8.5 });
  });
  opt.graphic = G;
  return opt;
}

export default function App() {
  const ref = useRef<HTMLDivElement>(null);
  useEffect(() => {
    if (!ref.current) return;
    const chart = echarts.init(ref.current, null, { renderer: 'svg' });
    chart.setOption(buildOption());
    return () => chart.dispose();
  }, []);
  return <div ref={ref} style={{ position: 'absolute', left: 0, top: 0, width: 1050, height: 923, background: '#fff' }} />;
}
